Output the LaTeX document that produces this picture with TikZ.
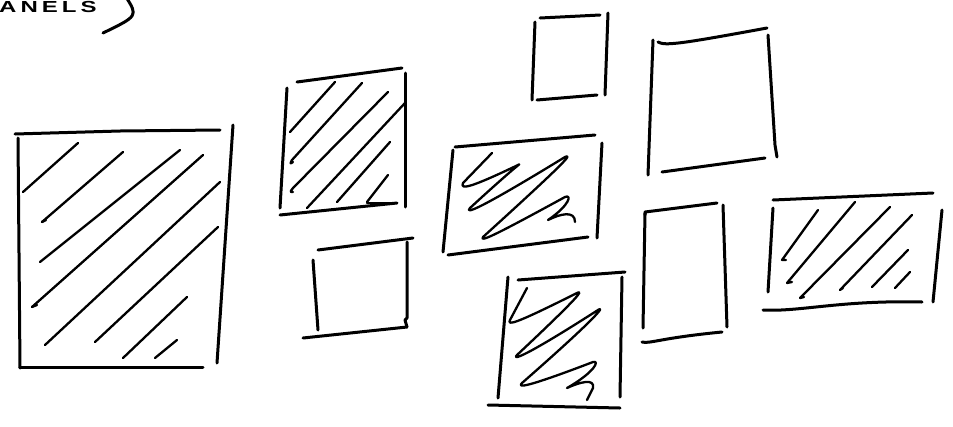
\documentclass[tikz,border=0pt]{standalone}
\usepackage{fontspec}
\setmainfont{Liberation Sans}
\begin{document}
\begin{tikzpicture}[x=1pt,y=-1pt,
  pen/.style={line width=3pt,line cap=round,line join=round,black},
  hatch/.style={line width=2.3pt,line cap=round,line join=round,black}]
\useasboundingbox[fill=white] (0,0) rectangle (953,426);
% partial heading text
\node[anchor=base west,inner sep=0pt,font=\fontsize{16}{16}\selectfont\bfseries] (title) at (-1,12) {\scalebox{1.5}[1]{A\,N\,E\,L\,S}};
\draw[pen] (126,-3) .. controls (138,16) .. (103,33);
% box 1 (large, hatched)
\draw[pen] (15,134) -- (120,131) -- (220,130);
\draw[pen] (18,138) -- (20,368);
\draw[pen] (20,367) -- (203,367);
\draw[pen] (233,125) -- (217,363);
\draw[hatch] (23,192) -- (78,143);
\draw[hatch] (42,222) -- (123,152); \draw[hatch] (42,222) -- (46,220);
\draw[hatch] (40,262) -- (180,150);
\draw[hatch] (32,307) -- (203,155); \draw[hatch] (32,307) -- (37,305);
\draw[hatch] (45,345) -- (220,182);
\draw[hatch] (95,342) -- (218,227);
\draw[hatch] (123,358) -- (187,297);
\draw[hatch] (155,358) -- (177,340);
% box 2 (hatched)
\draw[pen] (297,82) -- (402,68);
\draw[pen] (287,88) -- (280,208);
\draw[pen] (405,73) -- (405,207);
\draw[pen] (280,215) -- (397,203);
\draw[hatch] (290,132) -- (335,82);
\draw[hatch] (293,162) .. controls (290,164) .. (292,160) -- (362,83);
\draw[hatch] (293,192) .. controls (290,192) .. (293,188) -- (388,92);
\draw[hatch] (307,208) -- (405,103);
\draw[hatch] (337,202) -- (390,142);
\draw[hatch] (367,202) -- (388,175);
\draw[hatch] (367,203) -- (396,203);
% box 3 (white)
\draw[pen] (318,250) -- (413,238);
\draw[pen] (313,260) -- (318,330);
\draw[pen] (407,242) -- (407,318) -- (405,320) -- (407,327);
\draw[pen] (303,338) -- (407,327);
% box 4 (small white, top)
\draw[pen] (540,18) -- (600,15);
\draw[pen] (535,22) -- (532,100);
\draw[pen] (608,13) -- (605,95);
\draw[pen] (537,100) -- (597,95);
% box 5 (zigzag)
\draw[pen] (455,147) -- (595,135);
\draw[pen] (453,150) -- (443,252);
\draw[pen] (602,143) -- (597,238);
\draw[pen] (448,255) -- (588,237);
\draw[hatch] (492,153) -- (463,183) .. controls (460,190) and (470,188) .. (518,165)
  .. controls (522,163) and (520,162) .. (470,208) .. controls (465,214) and (475,212) .. (565,157)
  .. controls (572,154) and (570,158) .. (483,237) .. controls (480,242) and (490,238) .. (565,197)
  .. controls (572,194) and (570,205) .. (548,220) .. controls (560,214) and (575,210) .. (575,222);
% box 6 (zigzag, lower)
\draw[pen] (518,280) -- (625,272);
\draw[pen] (508,277) -- (498,398);
\draw[pen] (622,277) -- (620,397);
\draw[pen] (488,405) -- (620,408);
\draw[hatch] (527,288) -- (510,320) .. controls (507,326) and (515,324) .. (577,293)
  .. controls (583,290) and (582,294) .. (517,355) .. controls (512,360) and (520,360) .. (598,310)
  .. controls (604,306) and (603,312) .. (522,383) .. controls (517,388) and (525,388) .. (593,362)
  .. controls (600,360) and (595,372) .. (567,388) .. controls (580,382) and (595,378) .. (593,388)
  -- (587,400);
% box 7 (white, top right)
\draw[pen] (658,42) .. controls (665,46) and (680,44) .. (767,28);
\draw[pen] (653,40) -- (648,175);
\draw[pen] (768,35) -- (775,145) -- (777,157);
\draw[pen] (662,172) -- (765,158);
% box 8 (white, narrow)
\draw[pen] (645,215) -- (645,212) -- (717,203);
\draw[pen] (645,213) -- (643,328);
\draw[pen] (723,205) -- (727,327);
\draw[pen] (642,342) .. controls (650,344) and (660,338) .. (722,332);
% box 9 (hatched, right)
\draw[pen] (773,200) -- (933,193);
\draw[pen] (773,208) -- (768,292);
\draw[pen] (942,210) -- (933,302);
\draw[pen] (763,310) .. controls (800,312) and (840,300) .. (922,302);
\draw[hatch] (818,210) -- (782,260) -- (786,260);
\draw[hatch] (855,202) -- (787,283) -- (792,282);
\draw[hatch] (890,207) -- (800,298) -- (804,297);
\draw[hatch] (912,215) -- (840,290) -- (843,288);
\draw[hatch] (908,250) -- (872,287);
\draw[hatch] (910,272) -- (895,288);
\end{tikzpicture}
\end{document}
